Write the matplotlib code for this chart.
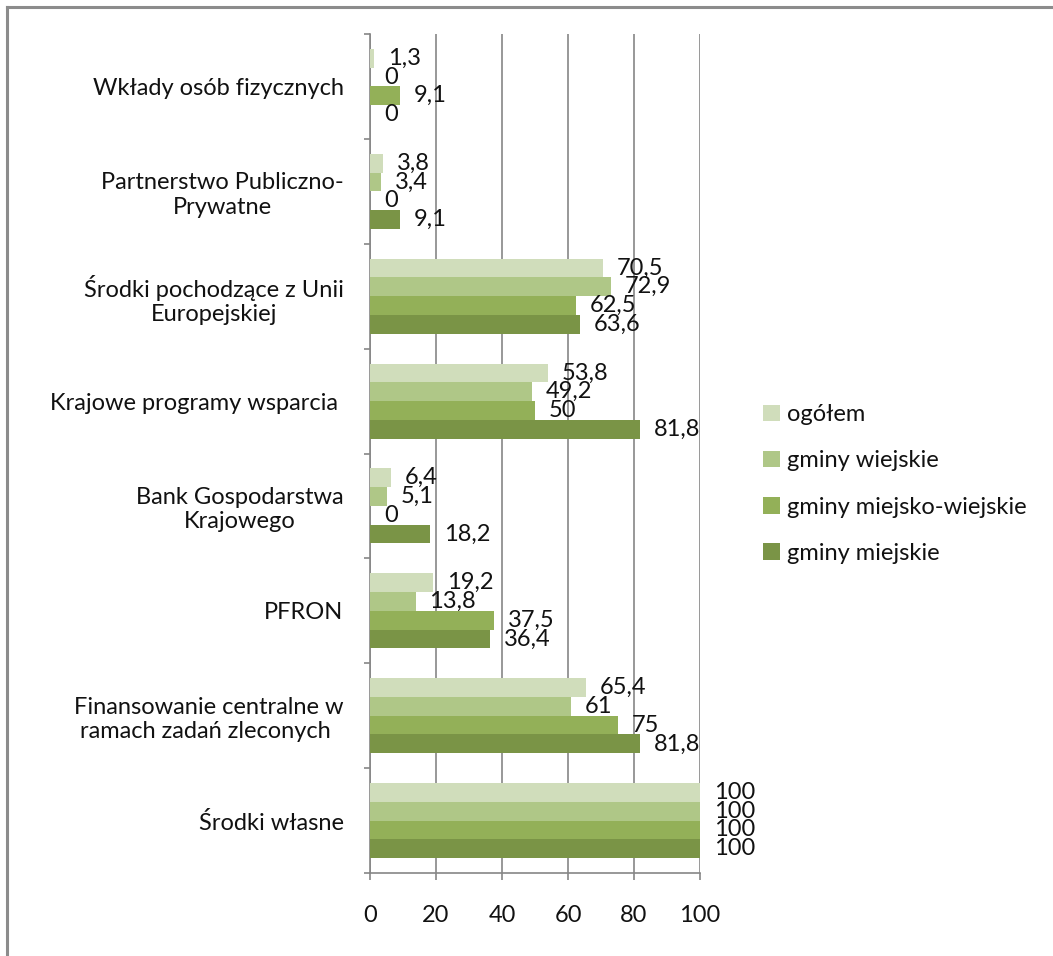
import numpy as np
import matplotlib.pyplot as plt
from matplotlib.lines import Line2D

plt.rcParams['font.family'] = ['Lato', 'DejaVu Sans']

categories = [
    "Wkłady osób fizycznych",
    "Partnerstwo Publiczno-\nPrywatne",
    "Środki pochodzące z Unii\nEuropejskiej",
    "Krajowe programy wsparcia ",
    "Bank Gospodarstwa\nKrajowego",
    "PFRON",
    "Finansowanie centralne w\nramach zadań zleconych ",
    "Środki własne",
]
series_names = ["ogółem", "gminy wiejskie", "gminy miejsko-wiejskie", "gminy miejskie"]
ogolem = [1.3, 3.8, 70.5, 53.8, 6.4, 19.2, 65.4, 100]
wiejskie = [0, 3.4, 72.9, 49.2, 5.1, 13.8, 61, 100]
miejsko_wiejskie = [9.1, 0, 62.5, 50, 0, 37.5, 75, 100]
miejskie = [0, 9.1, 63.6, 81.8, 18.2, 36.4, 81.8, 100]
xticks = [0, 20, 40, 60, 80, 100]

colors = ["#D0DDBB", "#AFC787", "#93B058", "#7A9446"]
grid_c = "#868686"
fs = 17

fig = plt.figure(figsize=(10.53, 9.56), dpi=100)
ax = fig.add_axes([370 / 1053, 1 - 873 / 956, 330 / 1053, 839 / 956])

y = np.arange(len(categories))
h = 0.179
for j, (vals, name) in enumerate(zip([ogolem, wiejskie, miejsko_wiejskie, miejskie], series_names)):
    bars = ax.barh(y + (j - 1.5) * h, vals, height=h, color=colors[j], label=name, zorder=3)
    labels = [f"{v:g}".replace(".", ",") for v in vals]
    ax.bar_label(bars, labels=labels, padding=10, fontsize=fs, color="#111111")

ax.set_xlim(0, 100)
ax.set_ylim(len(categories) - 0.5, -0.5)
ax.set_xticks(xticks)
ax.set_xticklabels([str(t) for t in xticks])
ax.set_yticks(y)
ax.set_yticklabels(categories)
for t in ax.get_yticklabels():
    t.set_multialignment("center")
ax.set_yticks(np.arange(len(categories) + 1) - 0.5, minor=True)

ax.tick_params(axis="y", which="major", length=0, pad=19, labelsize=fs, labelcolor="#111111")
ax.tick_params(axis="y", which="minor", length=4, width=1.2, color=grid_c, direction="out")
ax.tick_params(axis="x", length=5, width=1.2, color=grid_c, direction="out", pad=18,
               labelsize=fs, labelcolor="#111111")

ax.grid(axis="x", color=grid_c, linewidth=1.2, zorder=0)
for s in ["top", "right"]:
    ax.spines[s].set_visible(False)
for s in ["left", "bottom"]:
    ax.spines[s].set_color(grid_c)
    ax.spines[s].set_linewidth(1.2)

fig.legend(loc="center left", bbox_to_anchor=(763 / 1053, 1 - 484 / 956), frameon=False,
           fontsize=fs, handlelength=0.7, handleheight=0.7, handletextpad=0.3,
           labelspacing=1.07, borderpad=0, borderaxespad=0, labelcolor="#111111")

# thin frame along the top and left edges
fig.add_artist(Line2D([7 / 1053, 1], [1 - 6.5 / 956] * 2, transform=fig.transFigure, color="#8C8C8C", lw=2.2))
fig.add_artist(Line2D([7 / 1053] * 2, [0, 1 - 6.5 / 956], transform=fig.transFigure, color="#8C8C8C", lw=2.2))

fig.savefig("out.png", dpi=100)
